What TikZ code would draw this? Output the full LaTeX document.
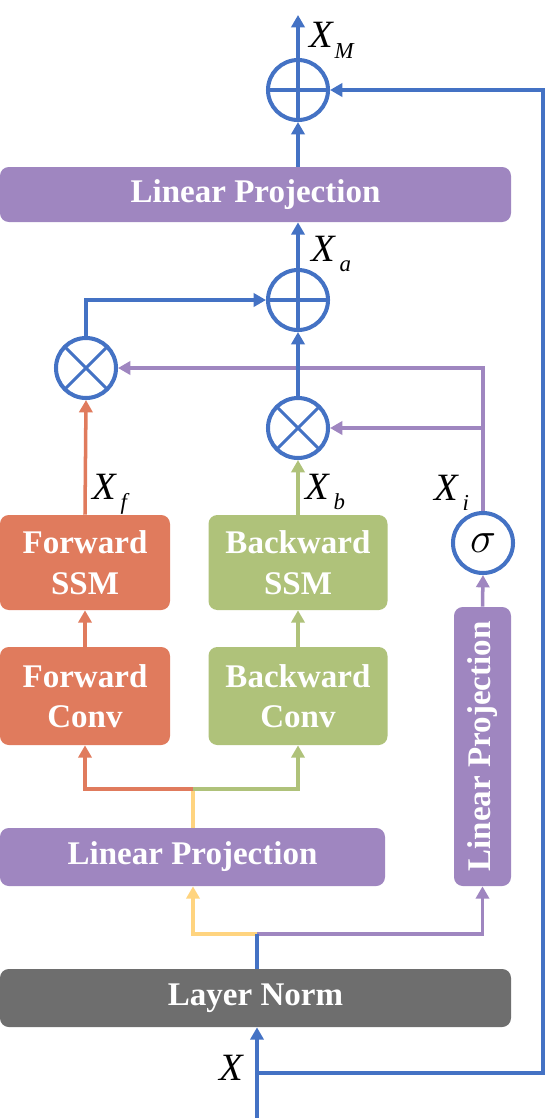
\documentclass[tikz,border=0pt]{standalone}
\usepackage{fontspec}
\setmainfont{Liberation Serif}
\usepackage{tikz}
\usetikzlibrary{arrows.meta,calc,positioning}
\definecolor{lineblue}{HTML}{4472C4}
\definecolor{boxpurple}{HTML}{9F86C0}
\definecolor{boxorange}{HTML}{E07B5D}
\definecolor{boxgreen}{HTML}{AFC27A}
\definecolor{boxgray}{HTML}{6E6E6E}
\definecolor{lineyellow}{HTML}{FFD47F}

\begin{document}
\begin{tikzpicture}[>={Triangle[length=7pt,width=7.5pt]},
  blk/.style={rounded corners=5pt,text=white,align=center,inner sep=0pt,
    font=\fontsize{18.8}{23}\selectfont\bfseries},
  op/.style={circle,draw=lineblue,line width=2.3pt,minimum size=1.2cm,inner sep=0pt},
  oplus/.style={op,path picture={\draw[lineblue,line width=1.8pt]
    (path picture bounding box.north)--(path picture bounding box.south)
    (path picture bounding box.west)--(path picture bounding box.east);}},
  otimes/.style={op,path picture={\draw[lineblue,line width=1.8pt]
    (path picture bounding box.north west)--(path picture bounding box.south east)
    (path picture bounding box.south west)--(path picture bounding box.north east);}},
  wire/.style={line width=2pt},
  lbl/.style={font=\fontsize{22}{26}\selectfont\itshape,inner sep=0pt},
  sub/.style={font=\fontsize{13}{15}\selectfont\itshape,inner sep=0pt,anchor=base west}]
\useasboundingbox (0,0) rectangle (11,-22.36);
% blocks
\node[blk,fill=boxpurple,minimum width=10.22cm,minimum height=1.1cm] (lptop) at (5.11,-3.89) {Linear Projection};
\node[blk,fill=boxgray,minimum width=10.22cm,minimum height=1.16cm] (ln) at (5.11,-19.96) {Layer Norm};
\node[blk,fill=boxpurple,minimum width=7.7cm,minimum height=1.16cm] (lpbot) at (3.85,-17.14) {Linear Projection};
\node[blk,fill=boxpurple,minimum width=5.58cm,minimum height=1.14cm,rotate=90] (lpv) at (9.65,-14.93) {Linear Projection};
\node[blk,fill=boxorange,minimum width=3.4cm,minimum height=1.96cm] (fconv) at (1.7,-13.92) {Forward\\Conv};
\node[blk,fill=boxgreen,minimum width=3.58cm,minimum height=1.96cm] (bconv) at (5.96,-13.92) {Backward\\Conv};
\node[blk,fill=boxorange,minimum width=3.4cm,minimum height=1.9cm] (fssm) at (1.7,-11.25) {Forward\\SSM};
\node[blk,fill=boxgreen,minimum width=3.58cm,minimum height=1.9cm] (bssm) at (5.96,-11.25) {Backward\\SSM};
% operators
\node[op] (sig) at (9.66,-10.86) {\fontsize{32}{32}\selectfont$\sigma$};
\node[otimes] (mulf) at (1.72,-7.36) {};
\node[otimes] (mulb) at (5.96,-8.56) {};
\node[oplus] (adda) at (5.96,-6.0) {};
\node[oplus] (addm) at (5.96,-1.8) {};
% helper points
\coordinate (xin) at (5.14,-22.36);
\coordinate (xsplit) at (5.14,-21.46);
\coordinate (fbk) at (10.86,-21.46);
\coordinate (lnsplit) at (5.14,-18.68);
\coordinate (lpsplit) at (3.86,-15.78);
\coordinate (gate) at (9.66,-7.36);
\coordinate (xout) at (5.96,-0.3);
% purple gate branch
\draw[wire,boxpurple,->] (lnsplit)-|(lpv.west);
\draw[wire,boxpurple,->] (lpv.east)--(sig.south);
\draw[wire,boxpurple,->] (sig.north)--(gate)--(mulf.east);
\draw[wire,boxpurple,->] (sig.north|-mulb)--(mulb.east);
% yellow / orange / green
\draw[wire,lineyellow,->] (lnsplit)-|(lpbot.south-|lpsplit);
\draw[wire,lineyellow] (lpbot.north-|lpsplit)--(lpsplit);
\draw[wire,boxorange,->] (lpsplit)-|(fconv.south);
\draw[wire,boxgreen,->] (lpsplit)-|(bconv.south);
\draw[wire,boxorange,->] (fconv.north)--(fssm.south);
\draw[wire,boxgreen,->] (bconv.north)--(bssm.south);
\draw[wire,boxorange,->] (fssm.north)--(mulf.south);
\draw[wire,boxgreen,->] (bssm.north)--(mulb.south);
% blue main path
\draw[lineblue,line width=2.3pt,->] (xin)--(xin|-ln.south);
\draw[lineblue,line width=2.3pt] (xin|-ln.north)--(lnsplit);
\draw[lineblue,line width=2.3pt,->] (xsplit)--(fbk)|-(addm.east);
\draw[lineblue,line width=2.3pt,->] (mulb.north)--(adda.south);
\draw[lineblue,line width=2.3pt,->] (mulf.north)|-(adda.west);
\draw[lineblue,line width=2.3pt,->] (adda.north)--(adda.north|-lptop.south);
\draw[lineblue,line width=2.3pt,->] (addm.south|-lptop.north)--(addm.south);
\draw[lineblue,line width=2.3pt,->] (addm.north)--(xout);
% labels
\node[lbl] (lx) at (4.62,-21.36) {X};
\node[lbl] (lxm) at (6.42,-0.69) {X};
\node[sub] at ($(lxm.base east)+(0.02,-0.22)$) {M};
\node[lbl] (lxa) at (6.46,-4.98) {X};
\node[sub] at ($(lxa.base east)+(0.08,-0.2)$) {a};
\node[lbl] (lxf) at (2.08,-9.74) {X};
\node[sub] at ($(lxf.base east)+(0.08,-0.2)$) {f};
\node[lbl] (lxb) at (6.34,-9.74) {X};
\node[sub] at ($(lxb.base east)+(0.08,-0.2)$) {b};
\node[lbl] (lxi) at (8.92,-9.76) {X};
\node[sub] at ($(lxi.base east)+(0.08,-0.2)$) {i};
\end{tikzpicture}
\end{document}
